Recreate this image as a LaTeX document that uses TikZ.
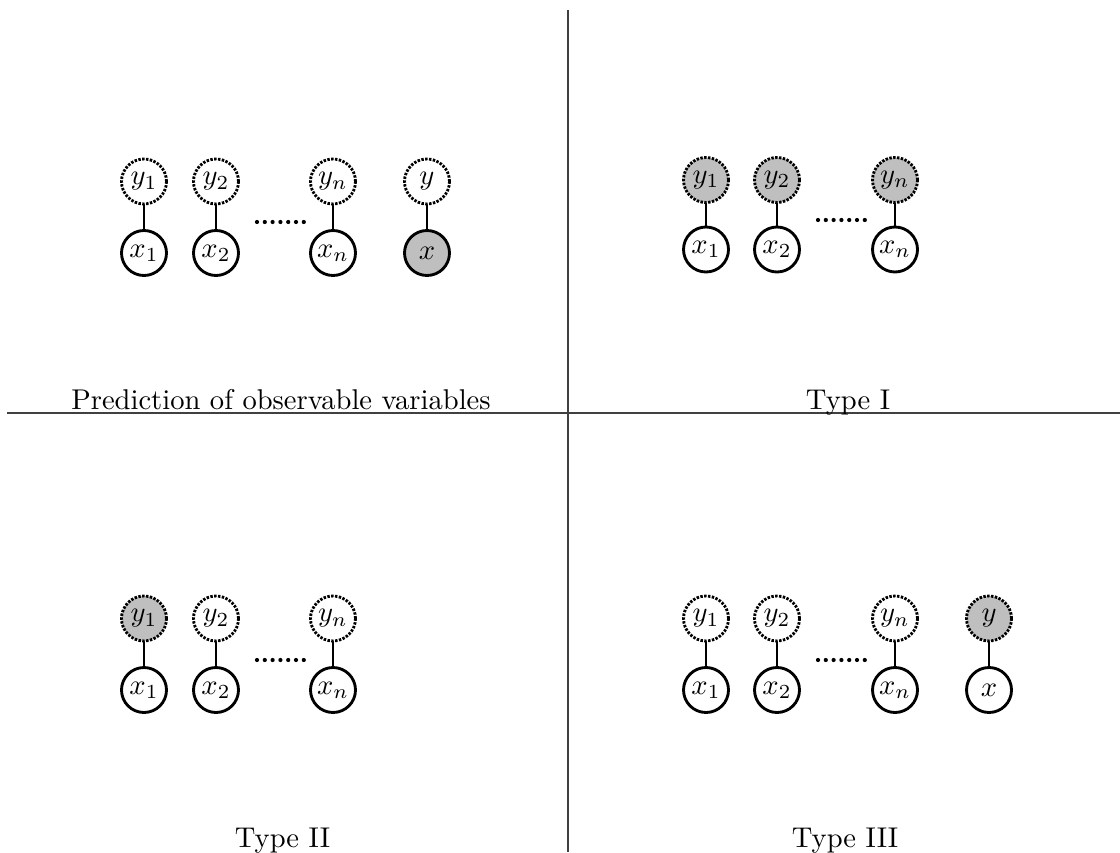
\documentclass[tikz,border=0pt]{standalone}
\usepackage{tikz}

\begin{document}
\begin{tikzpicture}[x=0.35pt, y=-0.35pt,
    every node/.style={inner sep=0pt},
    xnode/.style={circle, draw, line width=1pt, minimum size=15.75pt},
    ynode/.style={xnode, dash pattern=on 0.85pt off 0.5pt},
    obsd/.style={fill=gray!50},
    link/.style={line width=1pt},
    divider/.style={line width=0.6pt, black!75},
    caption/.style={anchor=base}]
    \useasboundingbox (0,0) rectangle (1120,852);

    % Dividers
    \coordinate (vtop) at (568,10);
    \coordinate (vbot) at (568,852);
    \coordinate (hleft) at (7,413);
    \coordinate (hright) at (1120,413);
    \draw[divider] (vtop) -- (vbot);
    \draw[divider] (hleft) -- (hright);

    % Prediction of observable variables
    \node[ynode] (a-y1) at (144,181.5) {$y_1$};
    \node[ynode] (a-y2) at (216,181.5) {$y_2$};
    \node[ynode] (a-yn) at (333,181.5) {$y_n$};
    \node[ynode] (a-y)  at (427,181.5) {$y$};
    \node[xnode] (a-x1) at (144,253) {$x_1$};
    \node[xnode] (a-x2) at (216,253) {$x_2$};
    \node[xnode] (a-xn) at (333,253) {$x_n$};
    \node[xnode, obsd] (a-x) at (427,253) {$x$};
    \foreach \i in {1,2,n}
      \draw[link] (a-y\i) -- (a-x\i);
    \draw[link] (a-y) -- (a-x);
    \foreach \k in {0,...,6}
      \fill (257+\k*7.8,222) circle (2.1);
    \node[caption] (cap-a) at (281,409) {Prediction of observable variables};

    % Type I
    \node[ynode, obsd] (b-y1) at (706,180) {$y_1$};
    \node[ynode, obsd] (b-y2) at (777,180) {$y_2$};
    \node[ynode, obsd] (b-yn) at (895,180) {$y_n$};
    \node[xnode] (b-x1) at (706,249.5) {$x_1$};
    \node[xnode] (b-x2) at (777,249.5) {$x_2$};
    \node[xnode] (b-xn) at (895,249.5) {$x_n$};
    \foreach \i in {1,2,n}
      \draw[link] (b-y\i) -- (b-x\i);
    \foreach \k in {0,...,6}
      \fill (818+\k*7.8,220) circle (2.1);
    \node[caption] (cap-b) at (848,409) {Type I};

    % Type II
    \node[ynode, obsd] (c-y1) at (144,618.5) {$y_1$};
    \node[ynode] (c-y2) at (216,618.5) {$y_2$};
    \node[ynode] (c-yn) at (333,618.5) {$y_n$};
    \node[xnode] (c-x1) at (144,690) {$x_1$};
    \node[xnode] (c-x2) at (216,690) {$x_2$};
    \node[xnode] (c-xn) at (333,690) {$x_n$};
    \foreach \i in {1,2,n}
      \draw[link] (c-y\i) -- (c-x\i);
    \foreach \k in {0,...,6}
      \fill (257+\k*7.8,660) circle (2.1);
    \node[caption] (cap-c) at (282.5,847) {Type II};

    % Type III
    \node[ynode] (d-y1) at (706,618.5) {$y_1$};
    \node[ynode] (d-y2) at (777,618.5) {$y_2$};
    \node[ynode] (d-yn) at (895,618.5) {$y_n$};
    \node[ynode, obsd] (d-y) at (989,618.5) {$y$};
    \node[xnode] (d-x1) at (706,690) {$x_1$};
    \node[xnode] (d-x2) at (777,690) {$x_2$};
    \node[xnode] (d-xn) at (895,690) {$x_n$};
    \node[xnode] (d-x)  at (989,690) {$x$};
    \foreach \i in {1,2,n}
      \draw[link] (d-y\i) -- (d-x\i);
    \draw[link] (d-y) -- (d-x);
    \foreach \k in {0,...,6}
      \fill (818+\k*7.8,660) circle (2.1);
    \node[caption] (cap-d) at (845,847) {Type III};
\end{tikzpicture}
\end{document}
